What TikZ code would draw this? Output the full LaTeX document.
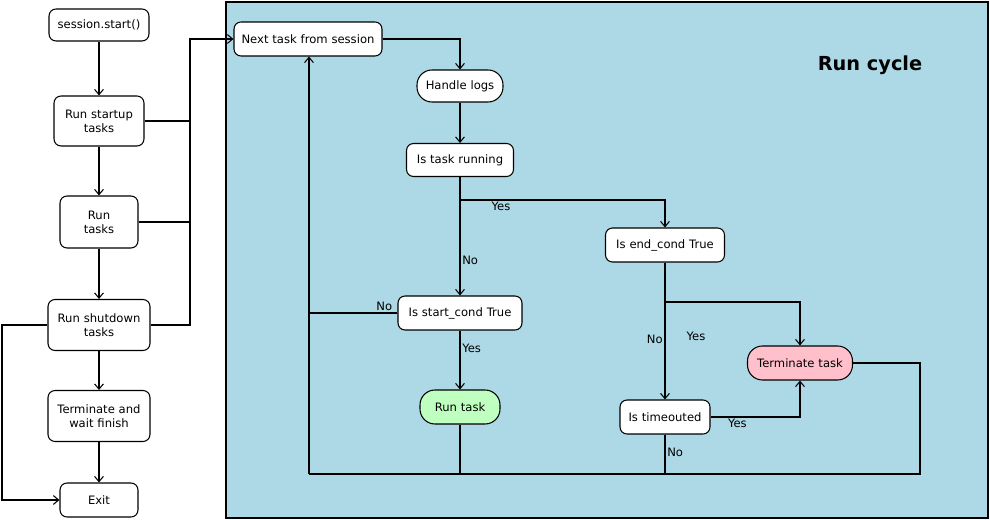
\documentclass[tikz,border=0pt]{standalone}
\usepackage{fontspec}
\setmainfont{DejaVu Sans}
\usetikzlibrary{arrows.meta}
\definecolor{bgblue}{HTML}{ADD8E6}
\definecolor{runc}{HTML}{BFFFBF}
\definecolor{termc}{HTML}{FFBFCB}
\begin{document}
\begin{tikzpicture}[x=0.02cm,y=-0.02cm,
  every node/.style={font=\fontsize{6.6}{8}\selectfont},
  box/.style={draw,fill=white,rounded corners=4pt,align=center,inner sep=0pt,line width=0.6pt},
  pill/.style={box,rounded corners=8.5pt},
  arr/.style={-{Straight Barb[length=3pt,width=5pt]},line width=0.6pt},
  ln/.style={line width=0.6pt},
  lab/.style={inner sep=1pt}]
\useasboundingbox (0,0) rectangle (990,520);
\draw[fill=bgblue,line width=0.8pt] (226,2) rectangle (988,518);
\node[font=\fontsize{11}{13}\selectfont\bfseries] (title) at (870,65) {Run cycle};
% left column
\node[box,text width=2.0cm,minimum height=0.64cm] (ss) at (99,25) {session.start()};
\node[box,text width=1.8cm,minimum height=1.0cm] (su) at (99,121) {Run startup\\tasks};
\node[box,text width=1.56cm,minimum height=1.04cm] (rt) at (99,222) {Run\\tasks};
\node[box,text width=2.04cm,minimum height=1.02cm] (sd) at (99,325) {Run shutdown\\tasks};
\node[box,text width=2.04cm,minimum height=1.02cm] (tw) at (99,416) {Terminate and\\wait finish};
\node[box,text width=1.56cm,minimum height=0.68cm] (ex) at (99,500) {Exit};
% inner
\node[box,text width=2.96cm,minimum height=0.68cm] (nt) at (308,39) {Next task from session};
\node[pill,text width=1.72cm,minimum height=0.64cm] (hl) at (460,86) {Handle logs};
\node[box,text width=2.14cm,minimum height=0.66cm] (tr) at (460,160) {Is task running};
\node[box,text width=2.38cm,minimum height=0.68cm] (ec) at (665,245) {Is end\_cond True};
\node[box,text width=2.48cm,minimum height=0.68cm] (sc) at (460,313) {Is start\_cond True};
\node[pill,text width=1.6cm,minimum height=0.68cm,fill=runc] (rk) at (460,407) {Run task};
\node[pill,text width=2.1cm,minimum height=0.68cm,fill=termc] (tt) at (800,363) {Terminate task};
\node[box,text width=1.8cm,minimum height=0.68cm] (to) at (665,417) {Is timeouted};
\coordinate (bl) at (309,474);
\coordinate (br) at (920,474);
% left arrows
\draw[arr] (ss) -- (su);
\draw[arr] (su) -- (rt);
\draw[arr] (rt) -- (sd);
\draw[arr] (sd) -- (tw);
\draw[arr] (tw) -- (ex);
\draw[arr] (su.east) -- (190,121) |- (nt.west);
\draw[ln] (rt.east) -| (190,121);
\draw[ln] (sd.east) -| (190,222);
\draw[arr] (sd.west) -- (2,325) |- (ex.west);
% inner
\draw[arr] (nt.east) -| (hl.north);
\draw[arr] (hl) -- (tr);
\draw[arr] (tr.south) -- node[lab,right,pos=0.7]{No} (sc.north);
\draw[arr] (460,200) -- node[lab,below,pos=0.2]{Yes} (665,200) -- (ec.north);
\draw[ln] (sc.west) -- node[lab,above,pos=0.15]{No} (309,313);
\draw[arr] (bl) -- (nt.south -| bl);
\draw[arr] (sc.south) -- node[lab,right,pos=0.3]{Yes} (rk.north);
\draw[ln] (rk.south) -- (rk.south |- bl);
\draw[arr] (ec.south) -- node[lab,left,pos=0.56]{No} (to.north);
\draw[arr] (665,302) -| (tt.north);
\node[lab] (ylab) at (696,336) {Yes};
\draw[arr] (to.east) -| node[lab,below,pos=0.15]{Yes} (tt.south);
\draw[ln] (to.south) -- node[lab,right,pos=0.45]{No} (to.south |- bl);
\draw[ln] (tt.east) -| (br) -- (bl);
\end{tikzpicture}
\end{document}
